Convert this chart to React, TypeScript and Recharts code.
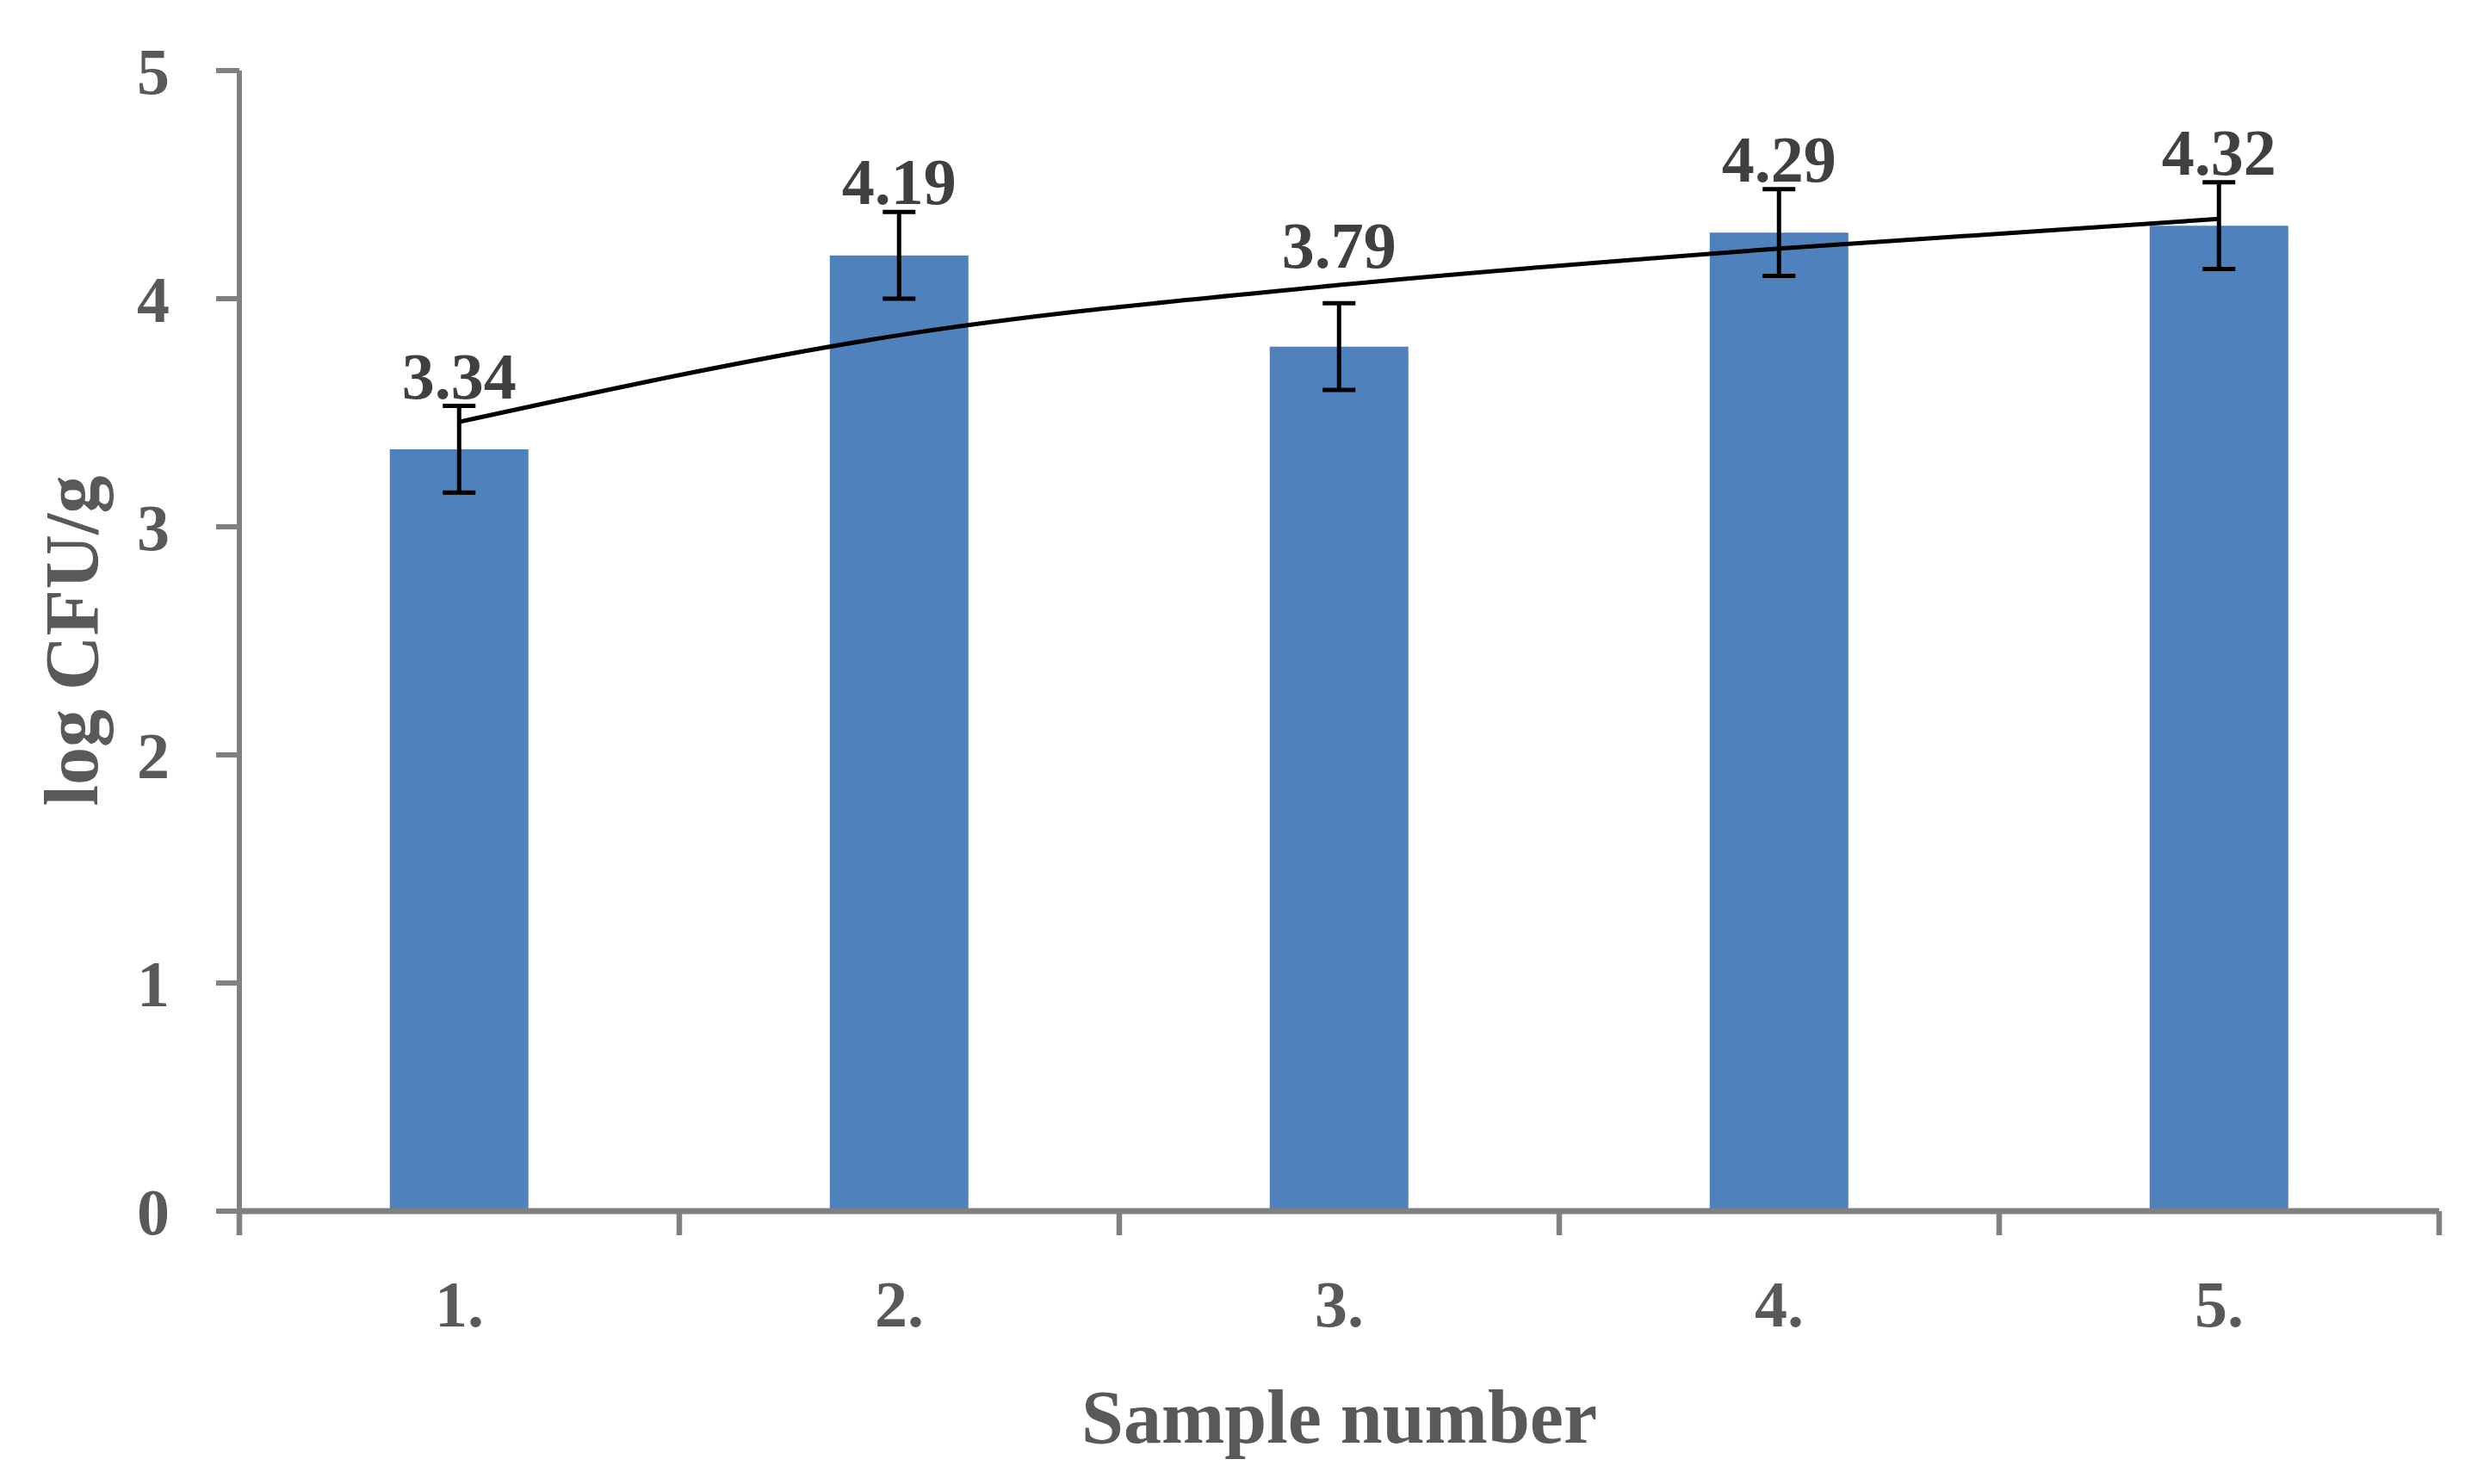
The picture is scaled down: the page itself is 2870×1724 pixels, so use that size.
import React from 'react'
import {
  ComposedChart, Bar, Line, XAxis, YAxis, ErrorBar, LabelList,
} from 'recharts'

const samples = ['1.', '2.', '3.', '4.', '5.']
const meanLog = [3.34, 4.19, 3.79, 4.29, 4.32]
const errLog = [0.19, 0.19, 0.19, 0.19, 0.19]
// logarithmic trend line, values at each sample
const trendLog = [3.46, 3.84, 4.06, 4.22, 4.35]
const yTicks = [0, 1, 2, 3, 4, 5]

const data = samples.map((s, i) => ({
  sample: s,
  mean: meanLog[i],
  err: errLog[i],
  trend: trendLog[i],
}))

const FONT = '"Liberation Serif", "Times New Roman", serif'
const AXIS_GRAY = '#808080'
const TEXT_GRAY = '#595959'

// value label sits above the error bar, or above the trend line when that is higher
function ValueLabel(props: any) {
  const x = Number(props.x)
  const y = Number(props.y)
  const width = Number(props.width)
  const height = Number(props.height)
  const value = Number(props.value)
  const i = props.index ?? meanLog.indexOf(value)
  const zeroY = y + height
  const perUnit = height / value
  const errTop = zeroY - (value + errLog[i]) * perUnit
  const trendY = zeroY - trendLog[i] * perUnit
  const baseline = Math.min(errTop - 9, trendY - 20)
  return (
    <text
      x={x + width / 2} y={baseline} textAnchor="middle"
      fontFamily={FONT} fontWeight="bold" fontSize={76} fill="#404040"
    >
      {value.toFixed(2)}
    </text>
  )
}

// category label plus tick marks between categories (Excel style)
function SampleTick(props: any) {
  const { x, y, payload, index, visibleTicksCount } = props
  const count = visibleTicksCount || samples.length
  const axisWidth = Number(props.width) || 2555
  const half = payload?.offset ?? axisWidth / count / 2
  const last = index === count - 1
  return (
    <g>
      <line x1={x - half} x2={x - half} y1={y} y2={y + 28} stroke={AXIS_GRAY} strokeWidth={6.5} />
      {last && (
        <line x1={x + half} x2={x + half} y1={y} y2={y + 28} stroke={AXIS_GRAY} strokeWidth={6.5} />
      )}
      <text
        x={x} y={y + 134} textAnchor="middle"
        fontFamily={FONT} fontWeight="bold" fontSize={76} fill={TEXT_GRAY}
      >
        {payload.value}
      </text>
    </g>
  )
}

function YTitle(props: any) {
  const vb = props.viewBox || {}
  const cx = (vb.x ?? 0) + 113
  const cy = (vb.y ?? 0) + (vb.height ?? 0) / 2
  return (
    <text
      x={cx} y={cy} textAnchor="middle" transform={`rotate(-90, ${cx}, ${cy})`}
      fontFamily={FONT} fontWeight="bold" fontSize={88} fill={TEXT_GRAY}
    >
      log CFU/g
    </text>
  )
}

function XTitle(props: any) {
  const vb = props.viewBox || {}
  const cx = (vb.x ?? 0) + (vb.width ?? 0) / 2
  const cy = (vb.y ?? 0) + 269
  return (
    <text
      x={cx} y={cy} textAnchor="middle"
      fontFamily={FONT} fontWeight="bold" fontSize={88} fill={TEXT_GRAY}
    >
      Sample number
    </text>
  )
}

export default function App() {
  return (
    <div style={{ position: 'absolute', left: 0, top: 0, width: 2870, height: 1724, background: '#fff' }}>
      <ComposedChart
        width={2870} height={1724} data={data}
        margin={{ top: 82, right: 37, bottom: 0, left: 0 }}
        barCategoryGap="34.2%"
      >
        <XAxis
          dataKey="sample" height={317}
          axisLine={{ stroke: AXIS_GRAY, strokeWidth: 7 }}
          tickLine={false} tickSize={0} tickMargin={0}
          tick={<SampleTick />} interval={0}
          label={<XTitle />}
        />
        <YAxis
          width={278} domain={[0, 5]} ticks={yTicks} allowDecimals={false}
          axisLine={{ stroke: AXIS_GRAY, strokeWidth: 6 }}
          tickLine={{ stroke: AXIS_GRAY, strokeWidth: 6 }}
          tickSize={27} tickMargin={54}
          tick={{ fill: TEXT_GRAY, fontSize: 76, fontFamily: FONT, fontWeight: 'bold' }}
          label={<YTitle />}
        />
        <Bar dataKey="mean" fill="#4F81BD" isAnimationActive={false}>
          <ErrorBar dataKey="err" width={19} stroke="#000" strokeWidth={5} direction="y" />
          <LabelList dataKey="mean" content={<ValueLabel />} />
        </Bar>
        <Line
          type="monotone" dataKey="trend" stroke="#000" strokeWidth={5}
          dot={false} activeDot={false} isAnimationActive={false}
        />
      </ComposedChart>
    </div>
  )
}
